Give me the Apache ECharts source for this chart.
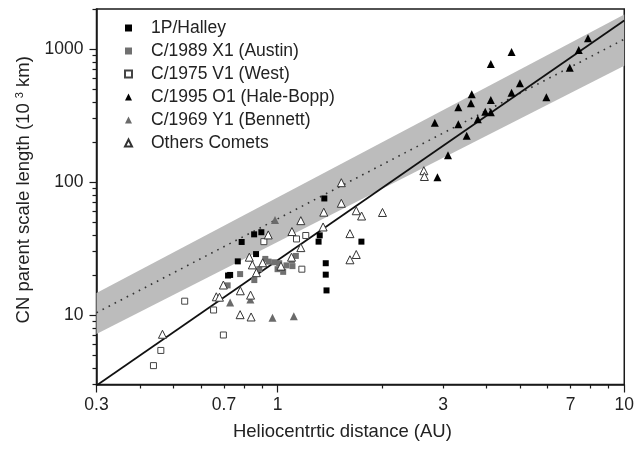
<!DOCTYPE html>
<html>
<head>
<meta charset="utf-8">
<script src="https://cdn.jsdelivr.net/npm/echarts@6/dist/echarts.min.js"></script>
<style>html,body{margin:0;padding:0;background:#fff;}#c{width:637px;height:455px;}</style>
</head>
<body>
<div id="c"></div>
<script>
// ---- Data ----
var halleyX = [0.897, 0.855, 0.787, 0.866, 0.767, 0.719, 0.729, 1.363, 1.322, 1.312, 1.744, 1.376, 1.376, 1.383];
var halleyY = [41.9, 40.4, 35.4, 28.7, 25.3, 19.8, 20.0, 75.2, 39.7, 35.6, 35.6, 24.5, 20.1, 15.3];

var austinX = [0.921, 0.941, 0.977, 1.010, 1.128, 1.099, 1.060, 1.103, 0.999, 1.037, 0.885, 0.856, 0.779, 0.717];
var austinY = [26.4, 25.2, 24.9, 24.5, 27.8, 25.9, 23.6, 23.3, 22.1, 21.1, 22.1, 18.3, 20.3, 16.7];

var westX = [0.912, 1.133, 1.205, 1.174, 0.539, 0.653, 0.697, 0.460, 0.438];
var westY = [35.6, 37.3, 39.6, 22.1, 12.7, 10.9, 7.07, 5.41, 4.16];

var haleBoppX = [7.86, 7.39, 6.96, 4.73, 4.12, 5.00, 4.73, 5.96, 3.63, 3.61, 4.12, 3.32, 3.97, 4.12, 3.78, 2.84, 3.32, 3.51, 3.10, 2.89];
var haleBoppY = [1203, 982, 723, 949, 771, 552, 469, 433, 457, 391, 414, 365, 338, 334, 296, 279, 272, 223, 159, 108.5];

var bennettX = [0.982, 0.729, 0.966, 1.113, 0.834];
var bennettY = [51.8, 12.4, 9.55, 9.79, 13.1];

var othersX = [1.166, 0.939, 1.099, 1.166, 0.828, 0.905, 1.022, 1.096, 0.697, 0.780, 0.665, 0.679, 0.835, 0.779, 0.838, 0.465,
               1.526, 1.526, 1.358, 1.685, 1.746, 2.006, 1.352, 1.616, 1.685, 1.616, 2.64, 2.65, 0.845, 0.868];
var othersY = [51.2, 40.0, 42.4, 32.1, 27.2, 24.7, 23.3, 27.2, 16.8, 15.2, 13.7, 13.6, 14.1, 10.05, 9.66, 7.16,
               98.8, 69.2, 59.3, 60.8, 55.5, 59.0, 45.9, 40.9, 28.5, 26.0, 121.6, 110, 23.8, 20.8];

// fitted lines and band (end points)
var fitX = [0.3, 10];
var solidY = [2.95, 1640];
var dottedY = [10.4, 1185];
var bandUpperY = [14.6, 1820];
var bandLowerY = [7.2, 750];

// axis ticks / labels
var xLabelVals = [0.3, 0.7, 1, 3, 7, 10];
var xMajorTicks = [0.3, 1, 10];
var xMinorTicks = [0.4, 0.5, 0.6, 0.7, 0.8, 0.9, 2, 3, 4, 5, 6, 7, 8, 9];
var yLabelVals = [10, 100, 1000];
var yMajorTicks = [10, 100, 1000];
var yMinorTicks = [3, 4, 5, 6, 7, 8, 9, 20, 30, 40, 50, 60, 70, 80, 90, 200, 300, 400, 500, 600, 700, 800, 900, 2000];

var seriesNames = ['1P/Halley', 'C/1989 X1 (Austin)', 'C/1975 V1 (West)', 'C/1995 O1 (Hale-Bopp)', 'C/1969 Y1 (Bennett)', 'Others Comets'];

function zip(xs, ys) { return xs.map(function (x, i) { return [x, ys[i]]; }); }

var FONT = 'Liberation Sans, Arial, sans-serif';
var AX = '#1a1a1a';

function xAxisDef(ticks, len, labels, showLine) {
  return {
    type: 'log', logBase: 10, min: 0.3, max: 10, position: 'bottom', gridIndex: 0,
    axisLine: { show: showLine, lineStyle: { color: AX, width: 1.5 } },
    axisTick: { show: true, inside: false, length: len, customValues: ticks, lineStyle: { color: AX, width: 1.2 } },
    axisLabel: labels ? { show: true, customValues: labels, fontSize: 17.5, fontFamily: FONT, color: '#222', margin: 12,
      formatter: function (v) { return String(Math.round(v * 10) / 10); } } : { show: false },
    splitLine: { show: false }, minorTick: { show: false }
  };
}
function yAxisDef(ticks, len, labels, showLine) {
  return {
    type: 'log', logBase: 10, min: 3, max: 2000, position: 'left', gridIndex: 0,
    axisLine: { show: showLine, lineStyle: { color: AX, width: 1.5 } },
    axisTick: { show: true, inside: false, length: len, customValues: ticks, lineStyle: { color: AX, width: 1.2 } },
    axisLabel: labels ? { show: true, customValues: labels, fontSize: 17.5, fontFamily: FONT, color: '#222', margin: 13,
      formatter: function (v) { return String(Math.round(v)); } } : { show: false },
    splitLine: { show: false }, minorTick: { show: false }
  };
}

var xa0 = xAxisDef(xMajorTicks, 8, xLabelVals, true);
xa0.name = 'Heliocentrtic distance (AU)';
xa0.nameLocation = 'middle';
xa0.nameGap = 38;
xa0.nameTextStyle = { fontSize: 18.5, fontFamily: FONT, color: '#222', padding: [0, 36, 0, 0] };
var xa1 = xAxisDef(xMinorTicks, 4, null, false);

var ya0 = yAxisDef(yMajorTicks, 7, yLabelVals, true);
ya0.name = 'CN parent scale length (10 {sup|3} km)';
ya0.nameLocation = 'middle';
ya0.nameGap = 61;
ya0.nameTextStyle = { fontSize: 18.5, fontFamily: FONT, color: '#222', padding: [0, 0, 0, 14],
  rich: { sup: { fontSize: 11, fontFamily: FONT, color: '#222', verticalAlign: 'top', padding: [0, 0, 8, 0] } } };
var ya1 = yAxisDef(yMinorTicks, 4, null, false);

function scatter(name, xs, ys, symbol, size, fill, stroke) {
  return {
    name: name, type: 'scatter', xAxisIndex: 0, yAxisIndex: 0,
    data: zip(xs, ys), symbol: symbol, symbolSize: size, z: 5,
    itemStyle: { color: fill, borderColor: stroke, borderWidth: stroke ? 1 : 0, opacity: 1 },
    emphasis: { disabled: true }
  };
}

var chart = echarts.init(document.getElementById('c'), null, { renderer: 'canvas' });
chart.setOption({
  animation: false,
  backgroundColor: '#fff',
  grid: { left: 96.5, right: 10.5, top: 9, bottom: 70.5, show: true, borderColor: AX, borderWidth: 1.5, containLabel: false },
  xAxis: [xa0, xa1],
  yAxis: [ya0, ya1],
  legend: {
    data: seriesNames, orient: 'vertical', left: 119, top: 14, itemWidth: 7, itemHeight: 7, itemGap: 5,
    textStyle: { fontSize: 17.5, fontFamily: FONT, color: '#222', lineHeight: 17.5, padding: [0, 0, 0, 14] },
    selectedMode: false
  },
  series: [
    {
      type: 'custom', name: 'band', coordinateSystem: 'cartesian2d', xAxisIndex: 0, yAxisIndex: 0, z: 1, clip: true,
      data: [[fitX[0], bandLowerY[0]]], silent: true,
      renderItem: function (params, api) {
        var pts = [];
        for (var i = 0; i < fitX.length; i++) pts.push(api.coord([fitX[i], bandUpperY[i]]));
        for (var j = fitX.length - 1; j >= 0; j--) pts.push(api.coord([fitX[j], bandLowerY[j]]));
        return { type: 'polygon', shape: { points: pts }, style: { fill: '#bcbcbc' } };
      }
    },
    {
      type: 'line', name: 'dotted', data: zip(fitX, dottedY), showSymbol: false, symbol: 'none', z: 3, clip: true,
      lineStyle: { color: '#333', width: 1.6, type: [1.6, 5.2] }, silent: true
    },
    {
      type: 'line', name: 'solid', data: zip(fitX, solidY), showSymbol: false, symbol: 'none', z: 3, clip: true,
      lineStyle: { color: '#111', width: 1.8 }, silent: true
    },
    scatter(seriesNames[0], halleyX, halleyY, 'rect', 6, '#000', null),
    scatter(seriesNames[1], austinX, austinY, 'rect', 6, '#707070', null),
    scatter(seriesNames[2], westX, westY, 'rect', 6, '#fff', '#444'),
    scatter(seriesNames[3], haleBoppX, haleBoppY, 'triangle', 8, '#000', null),
    scatter(seriesNames[4], bennettX, bennettY, 'triangle', 8, '#6a6a6a', null),
    scatter(seriesNames[5], othersX, othersY, 'triangle', 8, '#fff', '#333')
  ]
});
</script>
</body>
</html>
